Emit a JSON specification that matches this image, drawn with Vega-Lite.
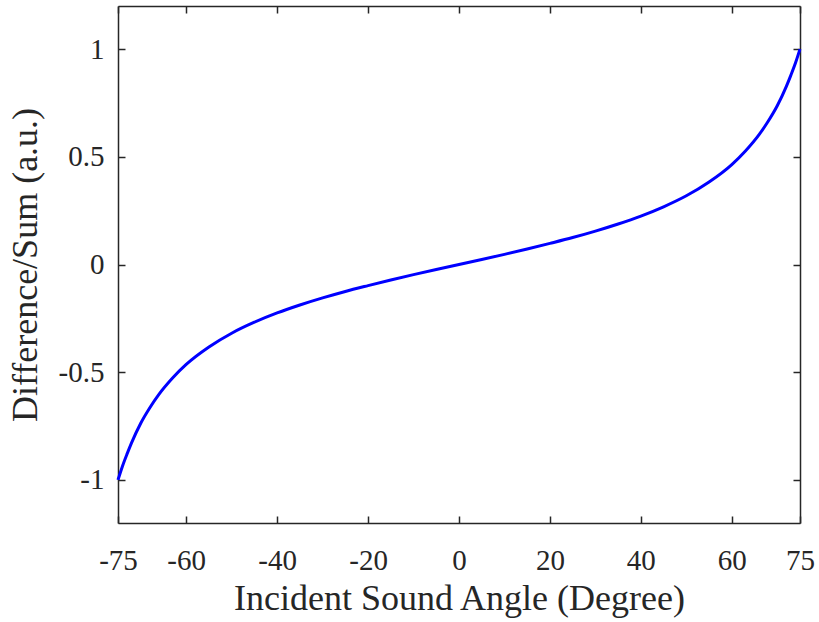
{
  "$schema": "https://vega.github.io/schema/vega-lite/v6.json",
  "autosize": {"type": "none"},
  "padding": {"left": 118, "top": 6, "right": 19, "bottom": 99},
  "width": 682,
  "height": 517,
  "background": "white",
  "config": {
    "view": {"stroke": null},
    "font": "Liberation Serif",
    "axis": {
      "grid": false,
      "domainColor": "#262626",
      "domainWidth": 1.5,
      "tickColor": "#262626",
      "tickWidth": 1.5,
      "tickSize": -7,
      "labelColor": "#262626",
      "titleColor": "#262626",
      "labelFont": "Liberation Serif",
      "titleFont": "Liberation Serif",
      "labelFontSize": 29,
      "titleFontSize": 36,
      "titleFontWeight": "normal",
      "labelFlush": false,
      "labelOverlap": false
    }
  },
  "data": {
    "values": [
      {"angle": -75, "ratio": -1.0},
      {"angle": -74, "ratio": -0.935},
      {"angle": -73, "ratio": -0.879},
      {"angle": -72, "ratio": -0.827},
      {"angle": -70, "ratio": -0.737},
      {"angle": -68, "ratio": -0.665},
      {"angle": -66, "ratio": -0.603},
      {"angle": -63, "ratio": -0.527},
      {"angle": -60, "ratio": -0.464},
      {"angle": -55, "ratio": -0.383},
      {"angle": -50, "ratio": -0.319},
      {"angle": -45, "ratio": -0.268},
      {"angle": -40, "ratio": -0.225},
      {"angle": -35, "ratio": -0.188},
      {"angle": -30, "ratio": -0.155},
      {"angle": -25, "ratio": -0.125},
      {"angle": -20, "ratio": -0.098},
      {"angle": -15, "ratio": -0.072},
      {"angle": -10, "ratio": -0.047},
      {"angle": -5, "ratio": -0.023},
      {"angle": 0, "ratio": 0.0},
      {"angle": 5, "ratio": 0.023},
      {"angle": 10, "ratio": 0.047},
      {"angle": 15, "ratio": 0.072},
      {"angle": 20, "ratio": 0.098},
      {"angle": 25, "ratio": 0.125},
      {"angle": 30, "ratio": 0.155},
      {"angle": 35, "ratio": 0.188},
      {"angle": 40, "ratio": 0.225},
      {"angle": 45, "ratio": 0.268},
      {"angle": 50, "ratio": 0.319},
      {"angle": 55, "ratio": 0.383},
      {"angle": 60, "ratio": 0.464},
      {"angle": 63, "ratio": 0.527},
      {"angle": 66, "ratio": 0.603},
      {"angle": 68, "ratio": 0.665},
      {"angle": 70, "ratio": 0.737},
      {"angle": 72, "ratio": 0.827},
      {"angle": 73, "ratio": 0.879},
      {"angle": 74, "ratio": 0.935},
      {"angle": 75, "ratio": 1.0}
    ]
  },
  "layer": [
    {
      "mark": {"type": "line", "strokeOpacity": 0},
      "encoding": {
        "x": {"field": "angle", "type": "quantitative",
              "scale": {"domain": [-75, 75], "nice": false, "zero": false},
              "axis": {"orient": "top", "labels": false, "title": null,
                       "values": [-75, -60, -40, -20, 0, 20, 40, 60, 75]}},
        "y": {"field": "ratio", "type": "quantitative",
              "scale": {"domain": [-1.2, 1.2], "nice": false, "zero": false},
              "axis": {"orient": "right", "labels": false, "title": null,
                       "values": [-1, -0.5, 0, 0.5, 1]}}
      }
    },
    {
      "mark": {"type": "line", "color": "#0000ff", "strokeWidth": 3, "interpolate": "monotone"},
      "encoding": {
        "x": {"field": "angle", "type": "quantitative",
              "scale": {"domain": [-75, 75], "nice": false, "zero": false},
              "axis": {"orient": "bottom", "title": "Incident Sound Angle (Degree)",
                       "values": [-75, -60, -40, -20, 0, 20, 40, 60, 75],
                       "labelExpr": "toString(datum.value)",
                       "labelPadding": 30, "titlePadding": 6}},
        "y": {"field": "ratio", "type": "quantitative",
              "scale": {"domain": [-1.2, 1.2], "nice": false, "zero": false},
              "axis": {"orient": "left", "title": "Difference/Sum (a.u.)",
                       "values": [-1, -0.5, 0, 0.5, 1],
                       "labelExpr": "toString(datum.value)",
                       "labelPadding": 21, "titlePadding": 14}}
      }
    }
  ],
  "resolve": {"axis": {"x": "independent", "y": "independent"}}
}
